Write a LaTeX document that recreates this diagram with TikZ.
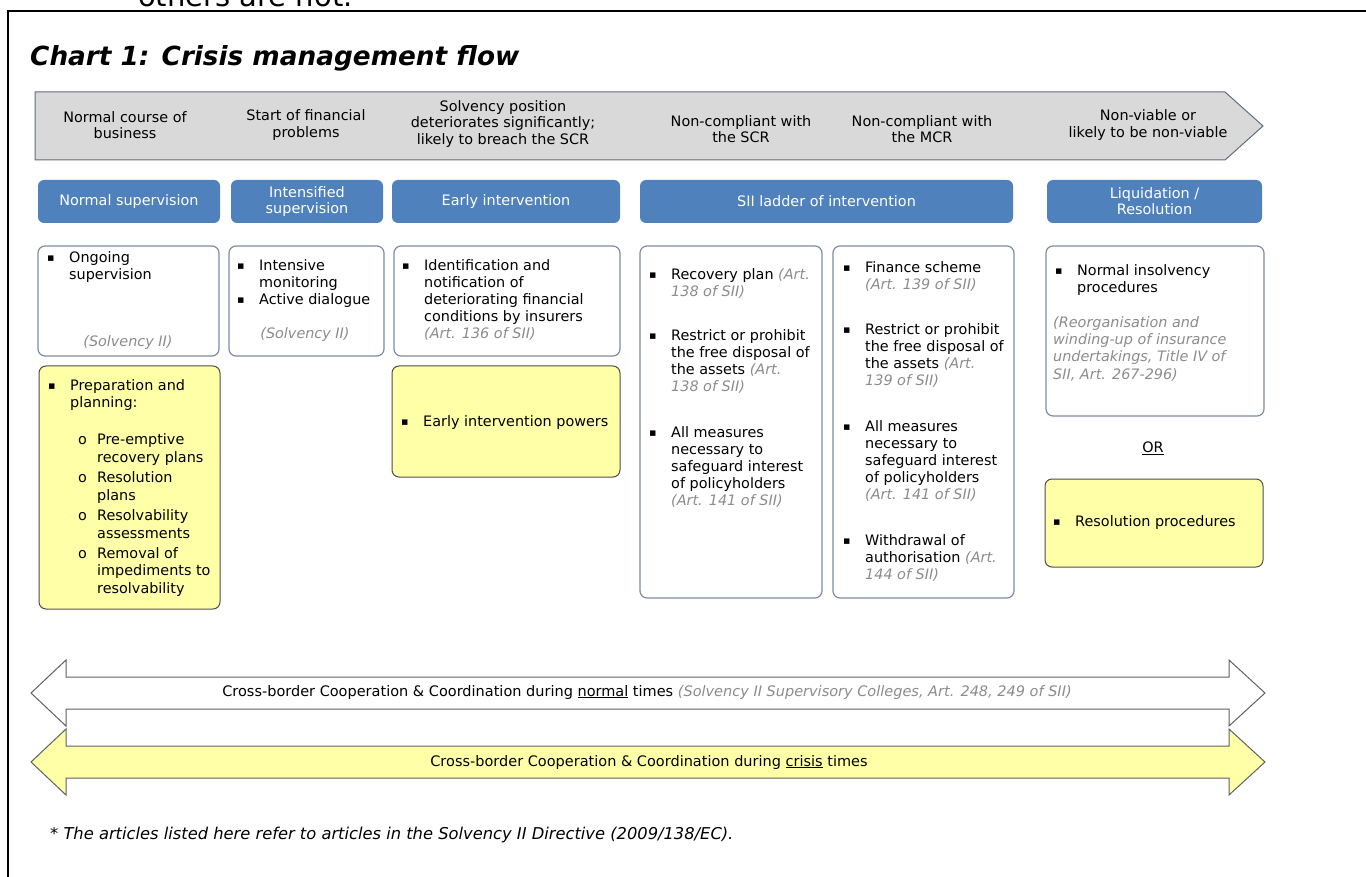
\documentclass[tikz,border=0pt]{standalone}
\usepackage{fontspec}
\setmainfont{DejaVu Sans}
\definecolor{hdrfill}{HTML}{D9D9D9}
\definecolor{hdrdraw}{HTML}{5F6E80}
\definecolor{bluebox}{HTML}{4F81BD}
\definecolor{wbdraw}{HTML}{7D8CA3}
\definecolor{yfill}{HTML}{FFFFA8}
\definecolor{ydraw}{HTML}{4D4D4D}
\definecolor{refgray}{HTML}{8C8C8C}
\definecolor{arrdraw}{HTML}{606060}
\newcommand\grit[1]{{\color{refgray}\itshape #1}}
\newcommand\bul{\llap{\makebox[22pt][l]{\fontsize{11}{11}\selectfont\raisebox{0.6pt}{▪}}}}
\newcommand\subbul{\llap{\makebox[19pt][l]{o}}}
\tikzset{
  body/.style={font=\fontsize{14.4}{17}\selectfont},
  txt/.style={body, align=left, anchor=north west, inner sep=0pt},
  grtxt/.style={font=\fontsize{14.4}{17}\selectfont\itshape, text=refgray, inner sep=0pt},
  hdr/.style={font=\fontsize{14.4}{16.5}\selectfont, align=center, inner sep=0pt},
  bluehead/.style={fill=bluebox, rounded corners=6pt, draw=none, text=white,
    font=\fontsize{14.4}{16}\selectfont, align=center, inner sep=0pt, outer sep=0pt, anchor=north west},
  wbox/.style={draw=wbdraw, line width=1.2pt, fill=white, rounded corners=7pt, inner sep=0pt, outer sep=0pt, anchor=north west},
  ybox/.style={draw=ydraw, line width=1pt, fill=yfill, rounded corners=7pt, inner sep=0pt, outer sep=0pt, anchor=north west},
  hdrarrow/.style={fill=hdrfill, draw=hdrdraw, line width=1pt},
  band/.style={draw=arrdraw, line width=1pt},
  bandtxt/.style={inner sep=0pt, font=\fontsize{14.5}{16}\selectfont},
}
\begin{document}
\begin{tikzpicture}[x=1pt,y=-1pt]
\useasboundingbox (0,0) rectangle (1366,877);
% cut-off text from the page above
\node[anchor=base west, inner sep=0pt, font=\fontsize{29}{30}\selectfont] (cut) at (138,7) {others are not.};
% frame
\draw[line width=2pt] (8,877) -- (8,11.5) -- (1366,11.5);
% title
\node[anchor=base west, inner sep=0pt, font=\fontsize{26.3}{28}\selectfont\bfseries\itshape] (title) at (30,66) {Chart 1: Crisis management flow};
% header arrow
\draw[hdrarrow] (35,92) -- (1225,92) -- (1263,126) -- (1225,160) -- (35,160) -- cycle;
\node[hdr] (h1) at (125,125) {Normal course of\\business};
\node[hdr] (h2) at (306,125) {Start of financial\\problems};
\node[hdr] (h3) at (503,124) {Solvency position\\deteriorates significantly;\\likely to breach the SCR};
\node[hdr] (h4) at (741,129) {Non-compliant with\\the SCR};
\node[hdr] (h5) at (922,129) {Non-compliant with\\the MCR};
\node[hdr] (h6) at (1148,125) {Non-viable or\\likely to be non-viable};
% blue headings
\node[bluehead, minimum width=182pt, minimum height=43pt] (s1) at (38,180) {Normal supervision};
\node[bluehead, minimum width=152pt, minimum height=43pt] (s2) at (231,180) {Intensified\\supervision};
\node[bluehead, minimum width=228pt, minimum height=43pt] (s3) at (392,180) {Early intervention};
\node[bluehead, minimum width=373pt, minimum height=43pt] (s4) at (640,180) {SII ladder of intervention};
\node[bluehead, minimum width=215pt, minimum height=43pt] (s5) at (1047,180) {Liquidation /\\Resolution};
% white boxes row 1
\node[wbox, minimum width=181pt, minimum height=110pt] (b1) at (38,246) {};
\node[txt] (b1a) at (69,251) {\bul Ongoing\\supervision};
\node[grtxt] (b1s) at (128,343) {(Solvency II)};
\node[wbox, minimum width=155pt, minimum height=110pt] (b2) at (229,246) {};
\node[txt] (b2a) at (259,259) {\bul Intensive\\monitoring\\\bul Active dialogue};
\node[grtxt] (b2s) at (305,335) {(Solvency II)};
\node[wbox, minimum width=226pt, minimum height=110pt] (b3) at (394,246) {};
\node[txt] (b3a) at (424,259) {\bul Identification and\\notification of\\deteriorating financial\\conditions by insurers\\\grit{(Art. 136 of SII)}};
% yellow boxes
\node[ybox, minimum width=181pt, minimum height=243pt] (b4) at (39,366) {};
\node[txt] (b4a) at (70,379) {\bul Preparation and\\planning:};
\node[txt, font=\fontsize{14.4}{18}\selectfont] (b4b) at (97,433) {\subbul Pre-emptive\\recovery plans};
\node[txt, font=\fontsize{14.4}{18}\selectfont] (b4c) at (97,471) {\subbul Resolution\\plans};
\node[txt, font=\fontsize{14.4}{18}\selectfont] (b4d) at (97,509) {\subbul Resolvability\\assessments};
\node[txt, font=\fontsize{14.4}{17.5}\selectfont] (b4e) at (97,547) {\subbul Removal of\\impediments to\\resolvability};
\node[ybox, minimum width=228pt, minimum height=111pt] (b5) at (392,366) {};
\node[txt] (b5a) at (423,415) {\bul Early intervention powers};
% SII ladder boxes
\node[wbox, minimum width=182pt, minimum height=352pt] (b6) at (640,246) {};
\node[txt] (b6a) at (671,268) {\bul Recovery plan \grit{(Art.}\\\grit{138 of SII)}};
\node[txt] (b6b) at (671,329) {\bul Restrict or prohibit\\the free disposal of\\the assets \grit{(Art.}\\\grit{138 of SII)}};
\node[txt] (b6c) at (671,426) {\bul All measures\\necessary to\\safeguard interest\\of policyholders\\\grit{(Art. 141 of SII)}};
\node[wbox, minimum width=181pt, minimum height=352pt] (b7) at (833,246) {};
\node[txt] (b7a) at (865,261) {\bul Finance scheme\\\grit{(Art. 139 of SII)}};
\node[txt] (b7b) at (865,323) {\bul Restrict or prohibit\\the free disposal of\\the assets \grit{(Art.}\\\grit{139 of SII)}};
\node[txt] (b7c) at (865,420) {\bul All measures\\necessary to\\safeguard interest\\of policyholders\\\grit{(Art. 141 of SII)}};
\node[txt] (b7d) at (865,534) {\bul Withdrawal of\\authorisation \grit{(Art.}\\\grit{144 of SII)}};
% liquidation
\node[wbox, minimum width=218pt, minimum height=170pt] (b8) at (1046,246) {};
\node[txt] (b8a) at (1077,264) {\bul Normal insolvency\\procedures};
\node[txt, text=refgray, font=\fontsize{14.4}{17.3}\selectfont\itshape] (b8b) at (1053,316) {(Reorganisation and\\winding-up of insurance\\undertakings, Title IV of\\SII, Art. 267-296)};
\node[body, inner sep=0pt] (or) at (1153,448) {\underline{OR}};
\node[ybox, minimum width=218pt, minimum height=88pt] (b9) at (1045,479) {};
\node[txt] (b9a) at (1075,515) {\bul Resolution procedures};
% bottom bands
\draw[band, fill=white] (31,693) -- (66,660) -- (66,677) -- (1229,677) -- (1229,660) -- (1265,693)
  -- (1229,726) -- (1229,709) -- (66,709) -- (66,726) -- cycle;
\node[bandtxt] (n1) at (647,692) {Cross-border Cooperation \& Coordination during \underline{normal} times \grit{(Solvency II Supervisory Colleges, Art. 248, 249 of SII)}};
\draw[band, fill=yfill] (31,762) -- (66,729) -- (66,746) -- (1229,746) -- (1229,729) -- (1265,762)
  -- (1229,795) -- (1229,778) -- (66,778) -- (66,795) -- cycle;
\node[bandtxt] (n2) at (649,762) {Cross-border Cooperation \& Coordination during \underline{crisis} times};
% footnote
\node[anchor=base west, inner sep=0pt, font=\fontsize{16.3}{18}\selectfont\itshape] (fn) at (50,839) {* The articles listed here refer to articles in the Solvency II Directive (2009/138/EC).};
\end{tikzpicture}
\end{document}
